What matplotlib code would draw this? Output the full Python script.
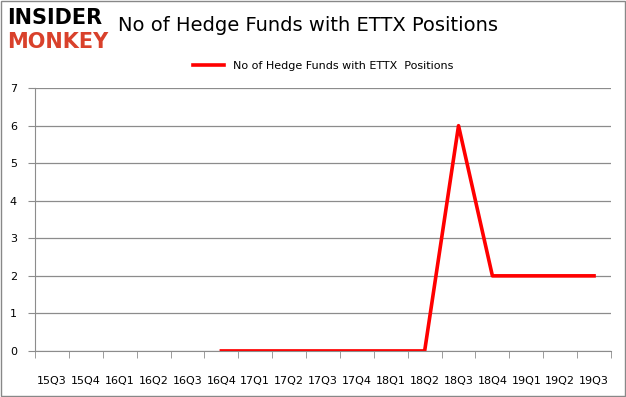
import matplotlib.pyplot as plt
import numpy as np

quarters = ['15Q3', '15Q4', '16Q1', '16Q2', '16Q3', '16Q4', '17Q1', '17Q2', '17Q3',
            '17Q4', '18Q1', '18Q2', '18Q3', '18Q4', '19Q1', '19Q2', '19Q3']
funds = [np.nan, np.nan, np.nan, np.nan, np.nan, 0, 0, 0, 0, 0, 0, 0, 6, 2, 2, 2, 2]
series_name = 'No of Hedge Funds with ETTX  Positions'

fig = plt.figure(figsize=(6.26, 3.97), dpi=100)
ax = fig.add_axes([0.056, 0.116, 0.92, 0.662])

x = np.arange(len(quarters))
ax.plot(x, funds, color='#ff0000', linewidth=2.6, label=series_name)

ax.set_xlim(-0.5, len(quarters) - 0.5)
ax.set_ylim(0, 7)
ax.set_yticks(range(0, 8))
ax.set_xticks(x)
ax.set_xticklabels(quarters)
ax.set_xticks(np.arange(-0.5, len(quarters)), minor=True)
ax.tick_params(axis='x', which='major', length=0, pad=18, labelsize=8)
ax.tick_params(axis='x', which='minor', length=5, color='#8c8c8c')
ax.tick_params(axis='y', length=5, color='#8c8c8c', pad=8, labelsize=8)
ax.grid(axis='y', color='#8c8c8c', linewidth=0.9)
ax.set_axisbelow(True)
for side in ['top', 'right']:
    ax.spines[side].set_visible(False)
ax.spines['left'].set_color('#8c8c8c')
ax.spines['bottom'].set_color('#8c8c8c')

ax.legend(loc='upper center', bbox_to_anchor=(0.5, 1.14), frameon=False,
          fontsize=8, handlelength=2.8)

fig.text(0.188, 0.935, 'No of Hedge Funds with ETTX Positions', fontsize=14,
         ha='left', va='center')
fig.text(0.012, 0.955, 'INSIDER', fontsize=15, fontweight='bold', color='black',
         ha='left', va='center')
fig.text(0.012, 0.895, 'MONKEY', fontsize=15, fontweight='bold', color='#d9412b',
         ha='left', va='center')

fig.patches.append(plt.Rectangle((0.002, 0.002), 0.996, 0.996, transform=fig.transFigure,
                                 fill=False, edgecolor='#888888', linewidth=1))

fig.savefig('out.png', dpi=100)
